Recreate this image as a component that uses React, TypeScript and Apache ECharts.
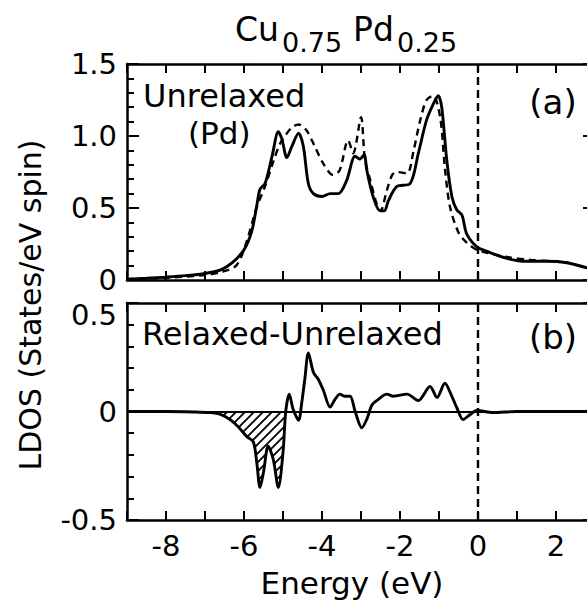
import React, { useEffect, useRef } from 'react';
import * as echarts from 'echarts';

// Panel (a): Unrelaxed Pd LDOS — solid curve
const energySolidA = [-9, -8.5, -8, -7.5, -7, -6.6, -6.3, -6.0, -5.8, -5.67, -5.59, -5.46, -5.28, -5.12, -5.03, -4.9, -4.77, -4.6, -4.48, -4.35, -4.22, -4.0, -3.79, -3.58, -3.37, -3.15, -3.03, -2.92, -2.85, -2.69, -2.51, -2.4, -2.3, -2.08, -1.74, -1.53, -1.32, -1.15, -1.02, -0.93, -0.8, -0.67, -0.55, -0.41, -0.29, -0.03, 0.22, 0.74, 1.25, 1.76, 2.28, 2.8, 3.0];
const ldosSolidA = [0.005, 0.012, 0.02, 0.03, 0.045, 0.07, 0.12, 0.21, 0.34, 0.52, 0.63, 0.67, 0.86, 1.03, 0.98, 0.85, 0.93, 1.02, 0.93, 0.67, 0.6, 0.58, 0.6, 0.6, 0.69, 0.86, 0.84, 0.87, 0.76, 0.58, 0.48, 0.48, 0.55, 0.65, 0.67, 0.88, 1.11, 1.22, 1.28, 1.2, 0.83, 0.58, 0.49, 0.45, 0.32, 0.23, 0.2, 0.15, 0.13, 0.13, 0.12, 0.085, 0.08];

// Panel (a): dashed curve
const energyDashedA = [-9, -8, -7, -6.6, -6.2, -5.94, -5.67, -5.46, -5.24, -5.07, -4.95, -4.77, -4.6, -4.4, -4.19, -3.97, -3.72, -3.55, -3.33, -3.2, -3.0, -2.9, -2.75, -2.6, -2.5, -2.34, -2.2, -2.08, -1.82, -1.65, -1.49, -1.32, -1.15, -0.97, -0.85, -0.72, -0.5, -0.29, -0.03, 0.74, 1.33, 2.28, 2.8, 3.0];
const ldosDashedA = [0.005, 0.015, 0.035, 0.055, 0.1, 0.26, 0.51, 0.65, 0.83, 0.95, 1.0, 1.06, 1.08, 1.04, 0.93, 0.81, 0.73, 0.76, 0.97, 0.88, 1.13, 0.84, 0.68, 0.53, 0.48, 0.62, 0.73, 0.75, 0.74, 0.9, 1.1, 1.25, 1.28, 1.13, 0.78, 0.51, 0.33, 0.26, 0.21, 0.16, 0.14, 0.12, 0.085, 0.08];

// Panel (b): Relaxed - Unrelaxed
const energyB = [-9, -8, -7.3, -6.87, -6.62, -6.36, -6.15, -5.93, -5.76, -5.67, -5.59, -5.5, -5.38, -5.25, -5.12, -5.0, -4.93, -4.84, -4.74, -4.6, -4.52, -4.44, -4.35, -4.22, -4.1, -3.97, -3.79, -3.67, -3.54, -3.41, -3.28, -3.15, -2.98, -2.85, -2.72, -2.56, -2.34, -2.17, -1.82, -1.53, -1.23, -1.05, -0.85, -0.67, -0.55, -0.38, -0.21, -0.03, 0.38, 1.0, 2.0, 3.0];
const diffB = [0, 0, -0.002, -0.005, -0.012, -0.037, -0.07, -0.115, -0.14, -0.24, -0.35, -0.28, -0.16, -0.22, -0.35, -0.19, 0, 0.08, 0.01, -0.04, 0.04, 0.15, 0.27, 0.18, 0.15, 0.1, 0.02, 0.055, 0.08, 0.07, 0.07, 0, -0.075, -0.035, 0.03, 0.055, 0.08, 0.07, 0.08, 0.05, 0.115, 0.065, 0.13, 0.07, 0.02, -0.037, -0.015, 0.005, -0.005, 0, 0, 0];
const hatchEnd = -4.93;

const xMin = -9;
const xMax = 3;

const FONT = '"DejaVu Sans", "Liberation Sans", sans-serif';

function makeHatch(): HTMLCanvasElement {
  const s = 9;
  const c = document.createElement('canvas');
  c.width = s;
  c.height = s;
  const ctx = c.getContext('2d')!;
  ctx.strokeStyle = '#000';
  ctx.lineWidth = 1.8;
  ctx.beginPath();
  ctx.moveTo(0, s);
  ctx.lineTo(s, 0);
  ctx.moveTo(-2, 2);
  ctx.lineTo(2, -2);
  ctx.moveTo(s - 2, s + 2);
  ctx.lineTo(s + 2, s - 2);
  ctx.stroke();
  return c;
}

export default function App() {
  const ref = useRef<HTMLDivElement>(null);
  useEffect(() => {
    const chart = echarts.init(ref.current!, null, { renderer: 'svg' });
    const black = '#000';
    const axisLine = { show: true, onZero: false, lineStyle: { color: black, width: 2.5 } };
    const xCommon = (gridIndex: number, position: string, showLabel: boolean) => ({
      type: 'value',
      gridIndex,
      position,
      min: xMin,
      max: xMax,
      interval: 1,
      axisLine,
      axisTick: { show: true, inside: true, length: 9, lineStyle: { color: black, width: 2 } },
      axisLabel: {
        show: showLabel,
        margin: 11,
        fontSize: 29,
        fontFamily: FONT,
        color: black,
        formatter: (v: number) => (Math.round(v) % 2 === 0 && v < 3 ? String(Math.round(v)) : ''),
      },
      splitLine: { show: false },
    });
    const yCommon = (gridIndex: number, position: string, min: number, max: number, showLabel: boolean) => ({
      type: 'value',
      gridIndex,
      position,
      min,
      max,
      interval: 0.5,
      axisLine,
      axisTick: { show: true, inside: true, length: 12, lineStyle: { color: black, width: 2 } },
      minorTick: { show: true, splitNumber: 5, length: 7, lineStyle: { color: black, width: 2 } },
      axisLabel: {
        show: showLabel,
        margin: 10,
        fontSize: 29,
        fontFamily: FONT,
        color: black,
        formatter: (v: number) => {
          const t = Math.abs(v) < 1e-9 ? '0' : v.toFixed(1);
          if (gridIndex === 1 && Math.abs(v - 0.5) < 1e-9) return '{t|' + t + '}';
          return t;
        },
        rich: { t: { fontSize: 29, fontFamily: FONT, color: black, padding: [24, 0, 0, 0] } },
      },
      splitLine: { show: false },
      minorSplitLine: { show: false },
    });

    const zip = (xs: number[], ys: number[]) => xs.map((x, i) => [x, ys[i]]);
    const hatchData = zip(energyB, diffB).filter((p) => p[0] <= hatchEnd + 1e-9);

    chart.setOption({
      animation: false,
      backgroundColor: '#fff',
      grid: [
        { left: 127, top: 64, width: 468, height: 216, show: false, containLabel: false, outerBoundsMode: 'none' },
        { left: 127, top: 303, width: 468, height: 217, show: false, containLabel: false, outerBoundsMode: 'none' },
      ],
      xAxis: [
        xCommon(0, 'bottom', false),
        xCommon(0, 'top', false),
        xCommon(1, 'bottom', true),
        xCommon(1, 'top', false),
      ],
      yAxis: [
        yCommon(0, 'left', 0, 1.5, true),
        yCommon(0, 'right', 0, 1.5, false),
        yCommon(1, 'left', -0.5, 0.5, true),
        yCommon(1, 'right', -0.5, 0.5, false),
      ],
      graphic: [
        { type: 'text', x: 235, y: 29.5, style: { text: 'Cu', fontSize: 33, fontFamily: FONT, fill: black, align: 'left', verticalAlign: 'middle' } },
        { type: 'text', x: 282, y: 42.5, style: { text: '0.75', fontSize: 27, fontFamily: FONT, fill: black, align: 'left', verticalAlign: 'middle' } },
        { type: 'text', x: 353, y: 29.5, style: { text: 'Pd', fontSize: 33, fontFamily: FONT, fill: black, align: 'left', verticalAlign: 'middle' } },
        { type: 'text', x: 397, y: 42.5, style: { text: '0.25', fontSize: 27, fontFamily: FONT, fill: black, align: 'left', verticalAlign: 'middle' } },
        { type: 'text', x: 30, y: 305, rotation: Math.PI / 2, style: { text: 'LDOS (States/eV spin)', fontSize: 30, fontFamily: FONT, fill: black, align: 'center', verticalAlign: 'middle' } },
        { type: 'text', x: 352, y: 582.5, style: { text: 'Energy (eV)', fontSize: 31, fontFamily: FONT, fill: black, align: 'center', verticalAlign: 'middle' } },
        { type: 'text', x: 143, y: 96, style: { text: 'Unrelaxed', fontSize: 32, fontFamily: FONT, fill: black, align: 'left', verticalAlign: 'middle' } },
        { type: 'text', x: 188, y: 133, style: { text: '(Pd)', fontSize: 31, fontFamily: FONT, fill: black, align: 'left', verticalAlign: 'middle' } },
        { type: 'text', x: 553, y: 102, style: { text: '(a)', fontSize: 34, fontFamily: FONT, fill: black, align: 'center', verticalAlign: 'middle' } },
        { type: 'text', x: 142, y: 334, style: { text: 'Relaxed-Unrelaxed', fontSize: 32, fontFamily: FONT, fill: black, align: 'left', verticalAlign: 'middle' } },
        { type: 'text', x: 553, y: 337, style: { text: '(b)', fontSize: 34, fontFamily: FONT, fill: black, align: 'center', verticalAlign: 'middle' } },
      ],
      series: [
        {
          type: 'line',
          xAxisIndex: 0,
          yAxisIndex: 0,
          data: zip(energyDashedA, ldosDashedA),
          showSymbol: false,
          smooth: 0.3,
          lineStyle: { color: black, width: 2.4, type: [7, 5] },
          z: 3,
        },
        {
          type: 'line',
          xAxisIndex: 0,
          yAxisIndex: 0,
          data: zip(energySolidA, ldosSolidA),
          showSymbol: false,
          smooth: 0.3,
          lineStyle: { color: black, width: 2.9 },
          z: 4,
          markLine: {
            silent: true,
            symbol: 'none',
            animation: false,
            label: { show: false },
            lineStyle: { color: black, width: 2.4, type: [8, 5] },
            data: [{ xAxis: 0 }],
          },
        },
        {
          type: 'line',
          xAxisIndex: 2,
          yAxisIndex: 2,
          data: hatchData,
          showSymbol: false,
          smooth: 0.3,
          lineStyle: { width: 0, opacity: 0 },
          areaStyle: {
            color: { image: makeHatch(), repeat: 'repeat', imageWidth: 9, imageHeight: 9 } as any,
            opacity: 1,
          },
          z: 2,
          markLine: {
            silent: true,
            symbol: 'none',
            animation: false,
            label: { show: false },
            lineStyle: { color: black, width: 2, type: 'solid', opacity: 1 },
            data: [{ yAxis: 0 }],
          },
        },
        {
          type: 'line',
          xAxisIndex: 2,
          yAxisIndex: 2,
          data: zip(energyB, diffB),
          showSymbol: false,
          smooth: 0.3,
          lineStyle: { color: black, width: 2.9 },
          z: 4,
          markLine: {
            silent: true,
            symbol: 'none',
            animation: false,
            label: { show: false },
            lineStyle: { color: black, width: 2.4, type: [8, 5] },
            data: [{ xAxis: 0 }],
          },
        },
      ],
    });
    return () => chart.dispose();
  }, []);
  return <div ref={ref} style={{ position: 'fixed', left: 0, top: 0, width: 587, height: 604 }} />;
}
